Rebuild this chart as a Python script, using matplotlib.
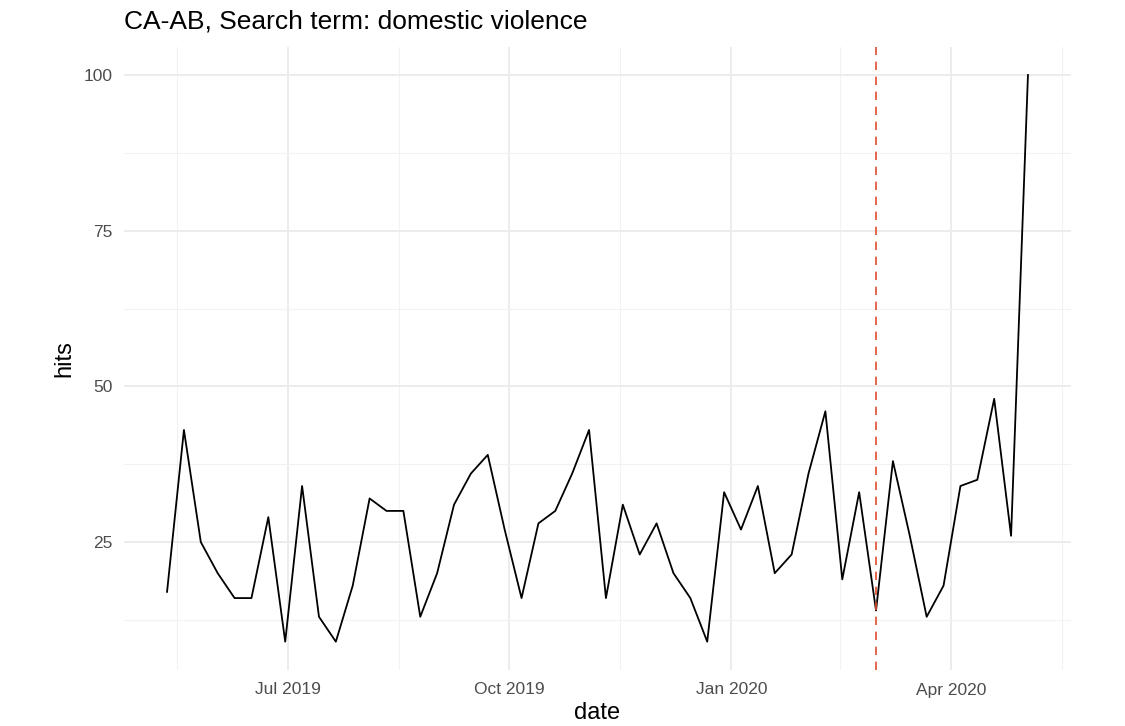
import matplotlib
matplotlib.use("Agg")
import matplotlib.pyplot as plt
import numpy as np
import pandas as pd

# weekly Google Trends hits, weeks starting Sunday
start_week = "2019-05-12"
hits = [17, 43, 25, 20, 16, 16, 29, 9, 34, 13,
        9, 18, 32, 30, 30, 13, 20, 31, 36, 39,
        27, 16, 28, 30, 36, 43, 16, 31, 23, 28,
        20, 16, 9, 33, 27, 34, 20, 23, 36, 46,
        19, 33, 14, 38, 26, 13, 18, 34, 35, 48,
        26, 100]
dates = pd.date_range(start_week, periods=len(hits), freq="7D")
event_date = pd.Timestamp("2020-03-01")

major_ticks = pd.to_datetime(["2019-07-01", "2019-10-01", "2020-01-01", "2020-04-01"])
major_labels = ["Jul 2019", "Oct 2019", "Jan 2020", "Apr 2020"]
minor_ticks = pd.to_datetime(["2019-05-16", "2019-08-16", "2019-11-16",
                              "2020-02-15", "2020-05-17"])
y_ticks = [25, 50, 75, 100]
y_minor = [12.5, 37.5, 62.5, 87.5]

plt.rcParams["font.family"] = ["Liberation Sans", "DejaVu Sans"]

fig = plt.figure(figsize=(11.25, 7.26), dpi=100)
ax = fig.add_axes([124 / 1125, 56 / 726, (1071 - 124) / 1125, (670 - 46.7) / 726])

ax.plot(dates, hits, color="black", lw=1.3, zorder=3)
ax.axvline(event_date, color="#E04A2E", lw=1.2, ls=(0, (5, 4)), zorder=4)

span = dates[-1] - dates[0]
ax.set_xlim(dates[0] - span * 0.05, dates[-1] + span * 0.05)
ymin, ymax = min(hits), max(hits)
pad = (ymax - ymin) * 0.05
ax.set_ylim(ymin - pad, ymax + pad)

ax.set_xticks(major_ticks)
ax.set_xticklabels(major_labels)
ax.set_xticks(minor_ticks, minor=True)
ax.set_yticks(y_ticks)
ax.set_yticks(y_minor, minor=True)

ax.grid(which="major", color="#EBEBEB", lw=1.3)
ax.grid(which="minor", color="#F2F2F2", lw=0.8)
ax.set_axisbelow(True)
for s in ax.spines.values():
    s.set_visible(False)
ax.tick_params(which="both", length=0)
ax.tick_params(axis="x", labelsize=12.5, colors="#4D4D4D", pad=9)
ax.tick_params(axis="y", labelsize=12.5, colors="#4D4D4D", pad=8)

ax.set_xlabel("date", fontsize=17, labelpad=3)
ax.set_ylabel("hits", fontsize=17, labelpad=6)
fig.text(124 / 1125, 1 - 22 / 726, "CA-AB, Search term: domestic violence",
         fontsize=19, va="center", ha="left")

fig.savefig("out.png", dpi=100, facecolor="white")
